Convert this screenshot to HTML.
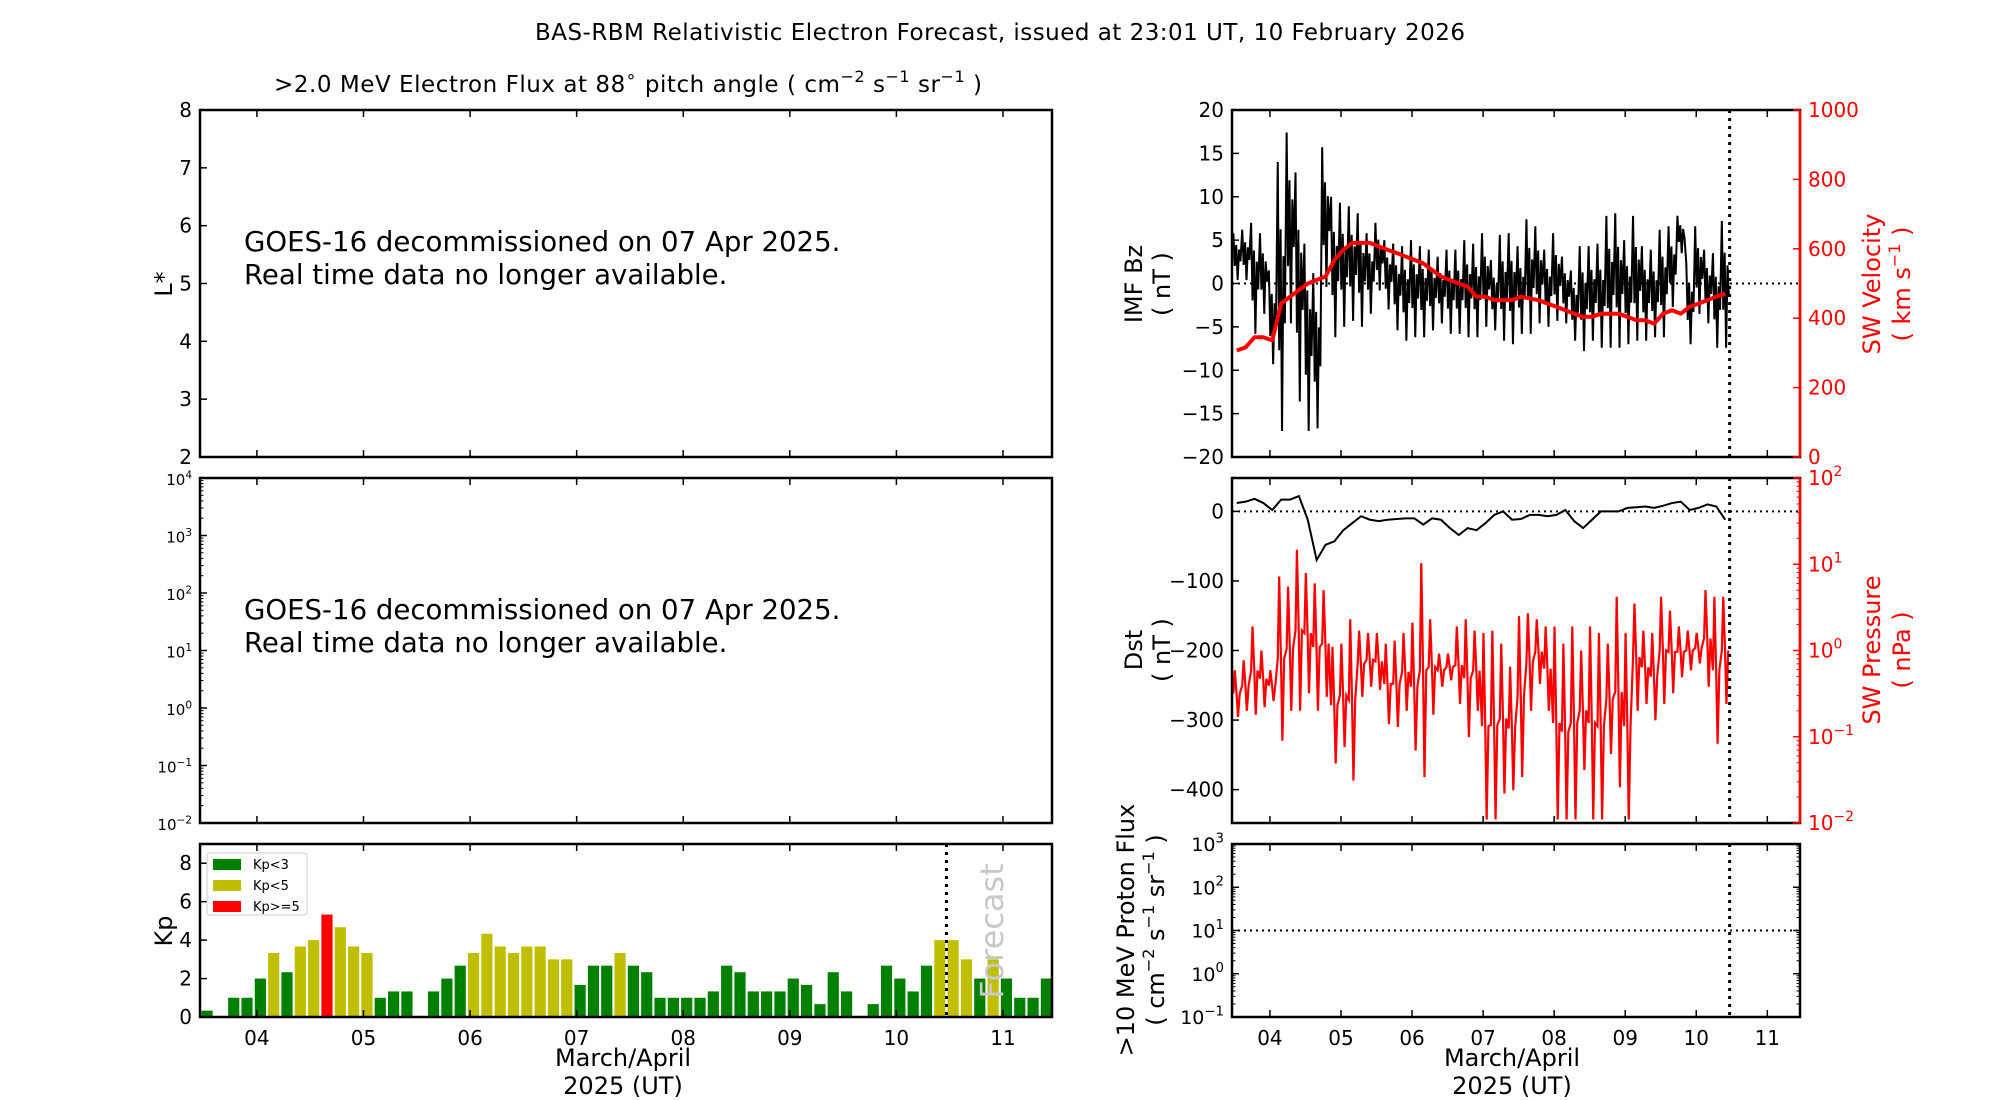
<!DOCTYPE html>
<html><head><meta charset="utf-8"><title>BAS-RBM Forecast</title>
<style>
html,body{margin:0;padding:0;background:#fff;}
svg{display:block;font-family:"DejaVu Sans","Liberation Sans",sans-serif;}
</style></head>
<body>
<svg id="chart" width="2000" height="1100" viewBox="0 0 2000 1100" xmlns="http://www.w3.org/2000/svg">
<rect x="0" y="0" width="2000" height="1100" fill="#fff"/>
<text x="1000" y="40" text-anchor="middle" font-size="23" textLength="930">BAS-RBM Relativistic Electron Forecast, issued at 23:01 UT, 10 February 2026</text>
<text x="274" y="92" font-size="23" textLength="708">&gt;2.0 MeV Electron Flux at 88<tspan font-size="17" dy="-10">∘</tspan><tspan dy="10"> pitch angle ( cm</tspan><tspan font-size="16" dy="-10">−2</tspan><tspan dy="10"> s</tspan><tspan font-size="16" dy="-10">−1</tspan><tspan dy="10"> sr</tspan><tspan font-size="16" dy="-10">−1</tspan><tspan dy="10"> )</tspan></text>
<g id="plots"></g>
</svg>
<script>
const tStart = 3.466, tEnd = 11.46, tForecast = 10.47;
const dayTicks = [4,5,6,7,8,9,10,11];
const dayLabels = ["04","05","06","07","08","09","10","11"];
const binStart = 3.47, binW = 0.125;
// Kp 3-hourly values from 03 Apr 12UT
const kpValues = [0.33,0,1,1,2,3.33,2.33,3.67,4,5.33,4.67,3.67,3.33,1,1.33,1.33,0,1.33,2,2.67,3.33,4.33,3.67,3.33,3.67,3.67,3,3,1.67,2.67,2.67,3.33,2.67,2.33,1,1,1,1,1.33,2.67,2.33,1.33,1.33,1.33,2,1.67,0.67,2.33,1.33,0,0.67,2.67,2,1.33,2.67,4,4,3,2,3,2,1,1,2];
const kpTicks = [0,2,4,6,8];
// IMF Bz envelope per 3h bin (nT)
const bzHi = [5.8,6.2,7,5.8,1.5,14,17.4,12.8,4.6,1.2,15.7,10,9.3,8.9,8.1,5.8,7,5,4.6,4.3,5,4.3,3.9,3.1,3.9,3.9,5,4.6,5.8,2.7,5.6,5.8,4.3,7.4,6.6,3.9,5.8,3.1,1.5,4.3,4.3,4.6,7.8,8.1,5,7.8,4.3,3.9,6.2,6.6,7.8,2.3,6.6,3.9,3.5,7.2];
const bzLo = [0.4,0.4,-5.8,-3.5,-9.3,-17,-4.6,-13.6,-17,-16.7,-0.4,-6.2,-5,-4.3,-5,-3.5,-0.8,-3,-5.4,-6.6,-6.2,-6.2,-5.4,-4.6,-5.8,-5.8,-6.2,-6.2,-5,-5.4,-6.6,-7,-5.8,-5.8,-4.6,-5,-4.3,-4.6,-6.6,-7.8,-6.6,-7.4,-7.4,-7.4,-7,-6.6,-6.6,-6.2,-6.2,-2.7,3.5,-7,-3.5,-4.6,-7.4,-7.4];
const bzTicks = [-20,-15,-10,-5,0,5,10,15,20];
// Solar wind velocity per 3h bin (km/s)
const swVel = [307,316,345,345,336,442,462,481,500,510,520,568,597,617,617,617,607,597,588,578,568,558,539,520,510,500,491,462,462,452,452,452,462,457,452,442,433,423,413,404,404,413,413,413,404,394,394,384,413,423,413,433,442,452,462,471];
const velTicks = [0,200,400,600,800,1000];
// Dst per 3h bin (nT)
const dstVals = [12,14,18,12,2,17,17,22,-12,-70,-48,-43,-27,-17,-7,-12,-14,-12,-11,-10,-10,-19,-10,-12,-24,-34,-24,-27,-17,-5,0,-12,-11,-5,-5,-7,-5,2,-14,-24,-12,0,0,0,5,6,7,5,8,12,14,2,5,10,7,-12];
const dstTicks = [0,-100,-200,-300,-400];
// SW pressure envelope per 3h bin (nPa)
const pHi = [0.59,0.77,1.9,1.0,0.59,7.2,5.5,14.7,7.9,6.0,5.0,1.1,1.2,2.3,1.7,1.6,1.6,1.2,1.3,1.6,2.1,10.3,2.3,0.92,0.92,1.9,2.3,1.7,1.6,1.7,1.2,0.65,2.5,2.7,2.3,1.9,1.9,1.2,1.9,1.0,1.9,1.6,1.2,4.2,1.6,3.5,1.7,1.6,4.2,2.9,1.9,1.7,1.6,5.0,4.2,4.2];
const pLo = [0.17,0.20,0.18,0.22,0.26,0.09,0.20,0.20,0.32,0.20,0.29,0.049,0.076,0.031,0.29,0.38,0.35,0.14,0.13,0.20,0.069,0.034,0.18,0.38,0.45,0.24,0.099,0.20,0.011,0.011,0.022,0.024,0.034,0.20,0.41,0.20,0.011,0.011,0.011,0.041,0.011,0.011,0.063,0.026,0.011,0.20,0.24,0.155,0.24,0.32,0.49,0.59,0.71,0.38,0.083,0.24];
const protonLevel = 10;

const NS = "http://www.w3.org/2000/svg";
const root = document.getElementById("plots");
function mk(tag, attrs, parent, text){
  const e = document.createElementNS(NS, tag);
  for (const k in attrs) e.setAttribute(k, attrs[k]);
  if (text !== undefined) e.textContent = text;
  (parent || root).appendChild(e);
  return e;
}
const L = {x0:200, x1:1052}, R = {x0:1232, x1:1800};
const rowTop = {y0:110, y1:457}, rowMid = {y0:478, y1:823}, rowBot = {y0:844, y1:1017};
function xs(p){ return t => p.x0 + (t - tStart) / (tEnd - tStart) * (p.x1 - p.x0); }
function lin(r, lo, hi){ return v => r.y1 - (v - lo) / (hi - lo) * (r.y1 - r.y0); }
function logs(r, lo, hi){ return v => r.y1 - (Math.log10(v) - lo) / (hi - lo) * (r.y1 - r.y0); }
const xL = xs(L), xR = xs(R);

function frame(p, r, name){
  const f = mk("rect", {x:p.x0, y:r.y0, width:p.x1-p.x0, height:r.y1-r.y0, fill:"none", stroke:"#000", "stroke-width":2.5});
  
  
}
function xTicks(p, r, xf, labels, name){
  const g = mk("g", {});
  
  
  dayTicks.forEach((d, i) => {
    const x = xf(d);
    mk("line", {x1:x, x2:x, y1:r.y1, y2:r.y1-7, stroke:"#000", "stroke-width":1.5}, g);
    mk("line", {x1:x, x2:x, y1:r.y0, y2:r.y0+7, stroke:"#000", "stroke-width":1.5}, g);
    if (labels){
      const t = mk("text", {x:x, y:r.y1+28, "text-anchor":"middle", "font-size":20}, g, dayLabels[i]);
      
      
    }
  });
}
function yTicksLin(p, r, yf, ticks, side, color, name, fs){
  const g = mk("g", {});
  
  
  ticks.forEach(v => {
    const y = yf(v);
    const x = side === "left" ? p.x0 : p.x1;
    const d = side === "left" ? 7 : -7;
    mk("line", {x1:x, x2:x+d, y1:y, y2:y, stroke:color, "stroke-width":1.5}, g);
    const t = mk("text", {x: side==="left" ? x-8 : x+8, y:y+7, "text-anchor": side==="left"?"end":"start", "font-size":fs||20, fill:color}, g, (v<0?"−"+(-v):String(v)));
    
    
  });
}
function yTicksLog(p, r, yf, lo, hi, side, color, name, fs){
  const g = mk("g", {});
  
  
  for (let e = lo; e <= hi; e++){
    const y = yf(Math.pow(10, e));
    const x = side === "left" ? p.x0 : p.x1;
    const d = side === "left" ? 7 : -7;
    mk("line", {x1:x, x2:x+d, y1:y, y2:y, stroke:color, "stroke-width":1.5}, g);
    if (e < hi) for (let m = 2; m < 10; m++){
      const ym = yf(m*Math.pow(10, e));
      mk("line", {x1:x, x2:x+d/2, y1:ym, y2:ym, stroke:color, "stroke-width":1}, g);
    }
    if (fs < 1) continue;
    const t = mk("text", {x: side==="left" ? x-8 : x+8, y:y+7, "text-anchor": side==="left"?"end":"start", "font-size":fs, fill:color}, g);
    
    
    mk("tspan", {}, t, "10");
    mk("tspan", {"font-size":fs*0.7, dy:-fs*0.45}, t, (e<0?"−"+(-e):String(e)));
  }
}
function vlabel(x, y, txt, color, name, fs){
  const t = mk("text", {x:x, y:y, transform:`rotate(-90 ${x} ${y})`, "text-anchor":"middle", "font-size":fs||24, fill:color||"#000"}, root, txt);
  
  
  return t;
}
function vForecast(xf, r){
  const l = mk("line", {x1:xf(tForecast), x2:xf(tForecast), y1:r.y0, y2:r.y1, stroke:"#000", "stroke-width":3, "stroke-dasharray":"3,5"});
  
  
}

// ---- Left top: L* panel
const yLs = lin(rowTop, 2, 8);
frame(L, rowTop, "lstar-panel-frame");
xTicks(L, rowTop, xL, false, "lstar-x-ticks");
yTicksLin(L, rowTop, yLs, [2,3,4,5,6,7,8], "left", "#000", "lstar-y-ticks", 20);
vlabel(172, 284, "L*", "#000", "lstar-axis-title");
[["GOES-16 decommissioned on 07 Apr 2025.",251],["Real time data no longer available.",284]].forEach(([s,y]) => {
  const t = mk("text", {x:244, y:y, "font-size":27.6}, root, s);
  
  
});
// ---- Left middle: flux panel
const yFl = logs(rowMid, -2, 4);
frame(L, rowMid, "flux-panel-frame");
xTicks(L, rowMid, xL, false, "flux-x-ticks");
yTicksLog(L, rowMid, yFl, -2, 4, "left", "#000", "flux-y-ticks", 15);
[["GOES-16 decommissioned on 07 Apr 2025.",619],["Real time data no longer available.",652]].forEach(([s,y]) => {
  const t = mk("text", {x:244, y:y, "font-size":27.6}, root, s);
  
  
});
// ---- Left bottom: Kp
const yKp = lin(rowBot, 0, 9);
kpValues.forEach((v, i) => {
  if (v <= 0) return;
  const t = binStart + i*binW;
  const xa = xL(t + 0.01), xb = xL(t + binW - 0.01);
  const col = v < 3 ? "#008000" : (v < 5 ? "#bfbf00" : "#ff0000");
  const b = mk("rect", {x:xa, y:yKp(v), width:xb-xa, height:yKp(0)-yKp(v), fill:col});
  
  
});
frame(L, rowBot, "kp-panel-frame");
xTicks(L, rowBot, xL, true, "kp-x-ticks");
yTicksLin(L, rowBot, yKp, kpTicks, "left", "#000", "kp-y-ticks", 20);
vForecast(xL, rowBot);
vlabel(172, 931, "Kp", "#000", "kp-axis-title");
const fc = mk("text", {x:1003, y:931, transform:"rotate(-90 1003 931)", "text-anchor":"middle", "font-size":32, fill:"#c8c8c8"}, root, "Forecast");


const leg = mk("g", {});


mk("rect", {x:207, y:853, width:100, height:62, rx:3, fill:"#fff", stroke:"#ccc", "stroke-width":1}, leg);
[["Kp<3","#008000",873],["Kp<5","#bfbf00",894],["Kp>=5","#ff0000",915]].forEach(([s,c,y]) => {
  const sw = mk("rect", {x:213, y:y-14, width:28, height:11, fill:c}, leg);
  
  
  const t = mk("text", {x:253, y:y-4, "font-size":13}, leg, s);
  
  
});
function xTitle(x, name){
  const a = mk("text", {x:x, y:1066, "text-anchor":"middle", "font-size":24}, root, "March/April");
  
  
  const b = mk("text", {x:x, y:1094, "text-anchor":"middle", "font-size":24}, root, "2025 (UT)");
  
  
}
xTitle(623, "kp-x-axis-title");

// ---- Right top: Bz & velocity
const yBz = lin(rowTop, -20, 20), yV = lin(rowTop, 0, 1000);
let pts = [];
bzHi.forEach((v, i) => {
  const t = binStart + i*binW;
  const mid = (v+bzLo[i])/2, amp = (v-bzLo[i])/2;
  pts.push(xR(t+0.015)+","+yBz(v));
  pts.push(xR(t+0.035)+","+yBz(mid-amp*0.4));
  pts.push(xR(t+0.055)+","+yBz(mid+amp*0.5));
  pts.push(xR(t+0.075)+","+yBz(bzLo[i]));
  pts.push(xR(t+0.095)+","+yBz(mid+amp*0.3));
  pts.push(xR(t+0.115)+","+yBz(mid-amp*0.2));
});
const bzLine = mk("polyline", {points:pts.join(" "), fill:"none", stroke:"#000", "stroke-width":2});


const z0 = mk("line", {x1:R.x0, x2:R.x1, y1:yBz(0), y2:yBz(0), stroke:"#000", "stroke-width":2, "stroke-dasharray":"2,4"});


pts = swVel.map((v, i) => xR(binStart + (i+0.5)*binW) + "," + yV(v));
const vLine = mk("polyline", {points:pts.join(" "), fill:"none", stroke:"#ff0000", "stroke-width":4, "stroke-linejoin":"round"});


frame(R, rowTop, "bz-panel-frame");
const rax1 = mk("line", {x1:R.x1, x2:R.x1, y1:rowTop.y0, y2:rowTop.y1, stroke:"#ff0000", "stroke-width":2.5});


xTicks(R, rowTop, xR, false, "bz-x-ticks");
yTicksLin(R, rowTop, yBz, bzTicks, "left", "#000", "bz-y-ticks", 20);
yTicksLin(R, rowTop, yV, velTicks, "right", "#ff0000", "velocity-y-ticks", 20);
vForecast(xR, rowTop);
vlabel(1142, 284, "IMF Bz", "#000", "bz-axis-title");
vlabel(1170, 284, "( nT )", "#000", "bz-axis-units");
vlabel(1880, 284, "SW Velocity", "#ff0000", "velocity-axis-title");
const vu = vlabel(1910, 284, "", "#ff0000", "velocity-axis-units");
mk("tspan", {}, vu, "( km s"); mk("tspan", {"font-size":16, dy:-10}, vu, "−1"); mk("tspan", {dy:10}, vu, " )");

// ---- Right middle: Dst & pressure
const yD = lin(rowMid, -448, 48), yP = logs(rowMid, -2, 2);
pts = [];
pHi.forEach((v, i) => {
  const t = binStart + i*binW;
  const g = Math.sqrt(v*pLo[i]);
  pts.push(xR(t+0.015)+","+yP(g));
  pts.push(xR(t+0.035)+","+yP(v));
  pts.push(xR(t+0.06)+","+yP(g));
  pts.push(xR(t+0.08)+","+yP(pLo[i]));
  pts.push(xR(t+0.105)+","+yP(g));
});
const pLine = mk("polyline", {points:pts.join(" "), fill:"none", stroke:"#ff0000", "stroke-width":2.2});


const d0 = mk("line", {x1:R.x0, x2:R.x1, y1:yD(0), y2:yD(0), stroke:"#000", "stroke-width":2, "stroke-dasharray":"2,4"});


pts = dstVals.map((v, i) => xR(binStart + (i+0.5)*binW) + "," + yD(v));
const dLine = mk("polyline", {points:pts.join(" "), fill:"none", stroke:"#000", "stroke-width":2});


frame(R, rowMid, "dst-panel-frame");
const rax2 = mk("line", {x1:R.x1, x2:R.x1, y1:rowMid.y0, y2:rowMid.y1, stroke:"#ff0000", "stroke-width":2.5});


xTicks(R, rowMid, xR, false, "dst-x-ticks");
yTicksLin(R, rowMid, yD, dstTicks, "left", "#000", "dst-y-ticks", 20);
yTicksLog(R, rowMid, yP, -2, 2, "right", "#ff0000", "pressure-y-ticks", 20);
vForecast(xR, rowMid);
vlabel(1142, 650, "Dst", "#000", "dst-axis-title");
vlabel(1170, 650, "( nT )", "#000", "dst-axis-units");
vlabel(1880, 650, "SW Pressure", "#ff0000", "pressure-axis-title");
vlabel(1910, 650, "( nPa )", "#ff0000", "pressure-axis-units");

// ---- Right bottom: proton flux
const yPr = logs(rowBot, -1, 3);
const pl = mk("line", {x1:R.x0, x2:R.x1, y1:yPr(protonLevel), y2:yPr(protonLevel), stroke:"#000", "stroke-width":2, "stroke-dasharray":"2,4"});


frame(R, rowBot, "proton-panel-frame");
xTicks(R, rowBot, xR, true, "proton-x-ticks");
yTicksLog(R, rowBot, yPr, -1, 3, "left", "#000", "proton-y-ticks", 19);
yTicksLog(R, rowBot, yPr, -1, 3, "right", "#000", "proton-y-ticks-right", 0);
vForecast(xR, rowBot);
vlabel(1134, 930, ">10 MeV Proton Flux", "#000", "proton-axis-title");
const pu = vlabel(1164, 930, "", "#000", "proton-axis-units");
mk("tspan", {}, pu, "( cm"); mk("tspan", {"font-size":16, dy:-10}, pu, "−2");
mk("tspan", {dy:10}, pu, " s"); mk("tspan", {"font-size":16, dy:-10}, pu, "−1");
mk("tspan", {dy:10}, pu, " sr"); mk("tspan", {"font-size":16, dy:-10}, pu, "−1");
mk("tspan", {dy:10}, pu, " )");
xTitle(1512, "proton-x-axis-title");
</script>
</body></html>
